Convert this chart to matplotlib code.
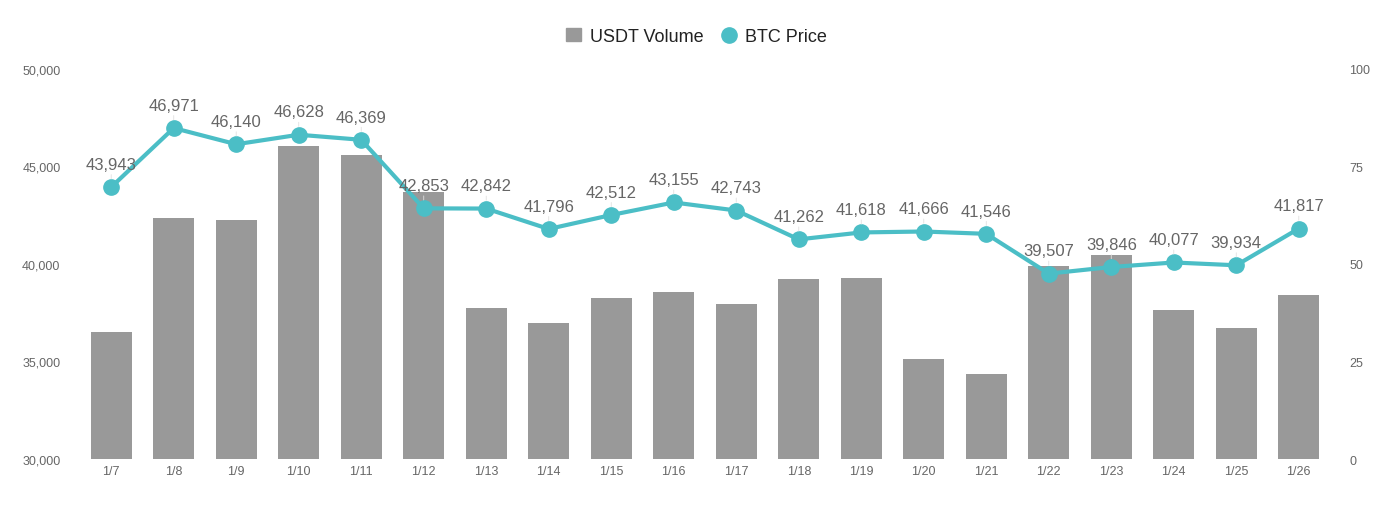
import matplotlib
matplotlib.use("Agg")
import matplotlib.pyplot as plt
from matplotlib.lines import Line2D
from matplotlib.patches import Patch

plt.rcParams["font.family"] = ["Liberation Sans", "DejaVu Sans"]

dates = ["1/7", "1/8", "1/9", "1/10", "1/11", "1/12", "1/13", "1/14", "1/15", "1/16",
         "1/17", "1/18", "1/19", "1/20", "1/21", "1/22", "1/23", "1/24", "1/25", "1/26"]
btc_price = [43943, 46971, 46140, 46628, 46369, 42853, 42842, 41796, 42512, 43155,
             42743, 41262, 41618, 41666, 41546, 39507, 39846, 40077, 39934, 41817]
usdt_volume = [32.6, 61.8, 61.3, 80.3, 77.9, 68.5, 38.7, 34.9, 41.3, 42.8,
               39.7, 46.2, 46.4, 25.6, 21.8, 49.5, 52.3, 38.2, 33.6, 42.1]
left_ticks = [30000, 35000, 40000, 45000, 50000]
right_ticks = [0, 25, 50, 75, 100]

BAR = "#999999"
LINE = "#4BBEC6"
TICK = "#666666"

fig = plt.figure(figsize=(13.93, 5.06), dpi=100)
ax = fig.add_axes([0.0574, 0.0909, 0.8974, 0.7708])
ax2 = ax.twinx()

x = range(len(dates))
ax2.bar(x, usdt_volume, width=0.66, color=BAR, zorder=1)
ax2.set_ylim(0, 100)
ax2.set_yticks(right_ticks)

# line on top of the bars
ax.set_zorder(ax2.get_zorder() + 1)
ax.patch.set_visible(False)
ax.plot(x, btc_price, color=LINE, lw=3, marker="o", ms=11, zorder=3)
for i, v in enumerate(btc_price):
    ax.annotate(f"{v:,}", (i, v), xytext=(0, 11), textcoords="offset points",
                ha="center", va="bottom", fontsize=12, color="#666666",
                arrowprops=dict(arrowstyle="-", color="#e0e0e0", lw=0.6,
                                shrinkA=0, shrinkB=6))
ax.set_ylim(30000, 50000)
ax.set_yticks(left_ticks)
ax.set_yticklabels([f"{t:,}" for t in left_ticks])
ax.set_xlim(-0.5, len(dates) - 0.5)
ax.set_xticks(list(x))
ax.set_xticklabels(dates)

for a in (ax, ax2):
    for s in a.spines.values():
        s.set_visible(False)
    a.tick_params(length=0, labelsize=9, colors=TICK)
ax.tick_params(axis="y", pad=14)
ax2.tick_params(axis="y", pad=14)
ax.tick_params(axis="x", pad=4)

handles = [Patch(color=BAR, label="USDT Volume"),
           Line2D([], [], color=LINE, marker="o", ls="none", ms=11, label="BTC Price")]
fig.legend(handles=handles, loc="upper center", bbox_to_anchor=(0.5, 0.975), ncol=2,
           frameon=False, fontsize=13, handlelength=0.8, handletextpad=0.5,
           columnspacing=1.0, labelcolor="#222222")

fig.savefig("out.png", dpi=100, facecolor="white")
